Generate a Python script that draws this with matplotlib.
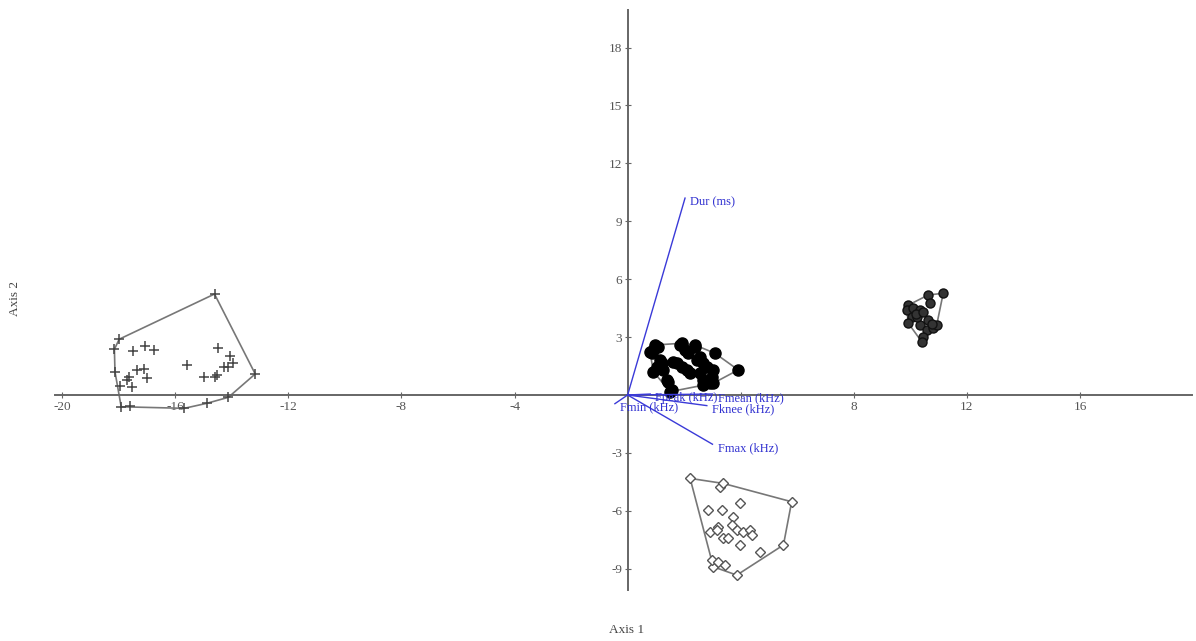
import numpy as np
import matplotlib.pyplot as plt

plt.rcParams['font.family'] = ['Liberation Serif', 'DejaVu Serif']
plt.rcParams['axes.unicode_minus'] = False

# group 1 (+), far left
g1_x = [-14.61, -13.17, -14.12, -15.68, -17.60, -17.91, -18.13, -18.15, -17.98,
        -17.48, -17.07, -16.75, -14.47, -14.06, -13.96, -14.12, -14.27, -14.53,
        -14.59, -14.98, -15.57, -17.00, -17.09, -17.36, -17.63, -17.71, -17.54,
        -17.95, -14.88]
g1_y = [5.23, 1.09, -0.12, -0.69, -0.55, -0.61, 1.21, 2.37, 2.89,
        2.30, 2.54, 2.33, 2.42, 2.02, 1.68, 1.43, 1.43, 1.04,
        0.95, 0.92, 1.55, 0.86, 1.33, 1.30, 0.95, 0.78, 0.43,
        0.47, -0.43]

# group 2 (filled black circles), near origin
g2_x = [0.79, 0.97, 1.91, 2.38, 3.09, 3.91, 3.03, 2.68, 1.50, 1.38,
        0.91, 1.09, 0.85, 1.15, 1.03, 1.26, 0.91, 1.21, 1.74, 1.91,
        2.09, 2.21, 1.85, 2.03, 2.15, 2.38, 2.56, 2.68, 2.80, 3.03,
        2.97, 2.56, 2.68, 2.91, 1.44, 1.56, 1.62, 2.44]
g2_y = [2.24, 2.59, 2.68, 2.59, 2.16, 1.30, 0.61, 0.52, 0.17, 0.78,
        2.33, 2.50, 2.16, 1.81, 1.47, 1.30, 1.21, 1.64, 1.64, 1.47,
        1.30, 1.12, 2.59, 2.33, 2.16, 2.50, 1.98, 1.64, 1.47, 1.30,
        0.95, 1.12, 0.78, 0.60, 0.69, 0.26, 1.73, 1.81]

# group 3 (grey filled circles), right
g3_x = [10.63, 11.16, 9.93, 9.87, 10.10, 10.34, 10.69, 10.05, 9.93, 10.34,
        10.58, 10.81, 10.93, 10.46, 10.40, 10.22, 10.63, 10.20, 10.45, 10.75]
g3_y = [5.18, 5.27, 4.66, 4.40, 4.49, 4.40, 4.75, 4.06, 3.71, 3.63,
        3.37, 3.46, 3.63, 3.02, 2.76, 4.06, 3.89, 4.20, 4.30, 3.70]

# group 4 (open diamonds), bottom
g4_x = [2.21, 3.27, 3.38, 5.80, 5.51, 3.86, 3.03, 2.97, 3.21, 3.44,
        4.68, 3.97, 2.85, 3.33, 3.74, 3.68, 3.21, 2.91, 3.38, 3.56,
        3.86, 4.09, 4.33, 4.39, 3.97, 3.15]
g4_y = [-4.32, -4.75, -4.58, -5.53, -7.77, -9.33, -8.90, -8.55, -8.64, -8.81,
        -8.12, -5.61, -5.96, -5.96, -6.30, -6.74, -6.82, -7.08, -7.43, -7.43,
        -6.99, -7.08, -6.99, -7.25, -7.77, -6.99]

# variable vectors
vec_names = ['Dur (ms)', 'Fmax (kHz)', 'Fmean (kHz)', 'Fknee (kHz)', 'Fpeak (kHz)', 'Fmin (kHz)']
vec_x = [2.03, 3.0, 3.0, 2.8, 0.8, -0.45]
vec_y = [10.2, -2.55, 0.05, -0.55, 0.05, -0.45]

xticks = [-20, -16, -12, -8, -4, 4, 8, 12, 16]
xlabels = ['-20', '-16', '-12', '-8', '-4', '', '8', '12', '16']
yticks = [-9, -6, -3, 3, 6, 9, 12, 15, 18]


def hull(xs, ys):
    # monotone chain convex hull
    pts = sorted(set(zip(xs, ys)))
    def cross(o, a, b):
        return (a[0]-o[0])*(b[1]-o[1]) - (a[1]-o[1])*(b[0]-o[0])
    lower, upper = [], []
    for p in pts:
        while len(lower) >= 2 and cross(lower[-2], lower[-1], p) <= 0:
            lower.pop()
        lower.append(p)
    for p in reversed(pts):
        while len(upper) >= 2 and cross(upper[-2], upper[-1], p) <= 0:
            upper.pop()
        upper.append(p)
    h = lower[:-1] + upper[:-1]
    h.append(h[0])
    return np.array(h)


fig = plt.figure(figsize=(11.96, 6.41), dpi=100)
ax = fig.add_axes([0.046, 0.0796, 0.9507, 0.905])
ax.set_xlim(-20.25, 19.96)
ax.set_ylim(-10.1, 19.95)

for s in ['top', 'right']:
    ax.spines[s].set_visible(False)
for s in ['bottom', 'left']:
    ax.spines[s].set_position(('data', 0))
    ax.spines[s].set_color('#666666')
    ax.spines[s].set_linewidth(1.4)

ax.set_xticks(xticks)
ax.set_xticklabels(xlabels)
ax.set_yticks(yticks)
ax.tick_params(direction='inout', length=4, width=0.8, colors='#666666',
               labelsize=9.5, labelcolor='#555555', pad=2)

# hulls
for gx, gy in [(g1_x, g1_y), (g2_x, g2_y), (g3_x, g3_y), (g4_x, g4_y)]:
    h = hull(gx, gy)
    ax.plot(h[:, 0], h[:, 1], color='#777777', lw=1.2, zorder=2)

ax.plot(g1_x, g1_y, '+', color='#444444', ms=7, mew=1.1, zorder=3)
ax.plot(g2_x, g2_y, 'o', color='black', ms=8, zorder=3)
ax.plot(g3_x, g3_y, 'o', mfc='#333333', mec='#111111', ms=6.5, zorder=3)
ax.plot(g4_x, g4_y, 'D', mfc='white', mec='#555555', ms=5, mew=1, zorder=3)

# vectors
for name, vx, vy in zip(vec_names, vec_x, vec_y):
    ax.plot([0, vx], [0, vy], color='#3a3ad8', lw=1.0, zorder=4)
    ax.text(vx + 0.18, vy - 0.2, name, color='#3030d0', fontsize=9,
            ha='left', va='center', zorder=5)

fig.text(627/1196, 1 - 630/641, 'Axis 1', ha='center', va='center',
         fontsize=9.5, color='#444444')
fig.text(15/1196, 1 - 298/641, 'Axis 2', ha='center', va='center',
         fontsize=9.5, color='#444444', rotation=90)

fig.savefig('out.png', dpi=100)
